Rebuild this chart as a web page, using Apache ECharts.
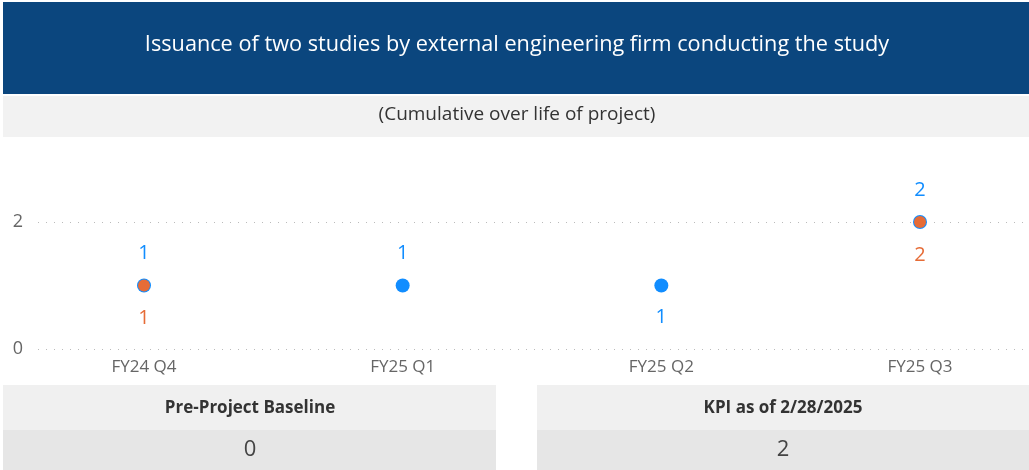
<!DOCTYPE html>
<html>
<head>
<meta charset="utf-8">
<script src="https://cdn.jsdelivr.net/npm/echarts@6/dist/echarts.min.js"></script>
<style>
  html, body { margin: 0; padding: 0; background: #fff; }
  #main { width: 1029px; height: 470px; }
</style>
</head>
<body>
<div id="main"></div>
<script>
// data
var quarters = ['FY24 Q4', 'FY25 Q1', 'FY25 Q2', 'FY25 Q3'];
var cumulative = [1, 1, 1, 2];        // blue
var target = [1, null, null, 2];       // orange
var blueBelow = ['FY25 Q2'];           // quarters whose blue label sits under the dot
var yTicks = [0, 2];
var baseline = 0;
var kpi = 2;

var font = '"Open Sans", "Noto Sans", sans-serif';
var blue = '#118DFF';
var orange = '#E66C37';

var chart = echarts.init(document.getElementById('main'));

var blueData = cumulative.map(function (v, i) {
  var below = blueBelow.indexOf(quarters[i]) >= 0;
  return { value: [quarters[i], v], label: { offset: [0, below ? 32 : -32] } };
});
var orangeData = [];
target.forEach(function (v, i) {
  if (v != null) orangeData.push([quarters[i], v]);
});

var option = {
  animation: false,
  textStyle: { fontFamily: font },
  graphic: [
    { type: 'rect', shape: { x: 3, y: 2, width: 1026, height: 92 }, style: { fill: '#0B467E' } },
    { type: 'text', x: 517, y: 45, style: { text: 'Issuance of two studies by external engineering firm conducting the study', fill: '#fff', font: '21.7px ' + font, textAlign: 'center', textVerticalAlign: 'middle' } },
    { type: 'rect', shape: { x: 3, y: 96, width: 1026, height: 41 }, style: { fill: '#F2F2F2' } },
    { type: 'text', x: 517, y: 115, style: { text: '(Cumulative over life of project)', fill: '#333', font: '19px ' + font, textAlign: 'center', textVerticalAlign: 'middle' } },

    { type: 'rect', shape: { x: 3, y: 385, width: 493, height: 45 }, style: { fill: '#F0F0F0' } },
    { type: 'rect', shape: { x: 3, y: 430, width: 493, height: 40 }, style: { fill: '#E6E6E6' } },
    { type: 'text', x: 250, y: 408, style: { text: 'Pre-Project Baseline', fill: '#333', font: 'bold 17px ' + font, textAlign: 'center', textVerticalAlign: 'middle' } },
    { type: 'text', x: 250, y: 450, style: { text: String(baseline), fill: '#444', font: '22px ' + font, textAlign: 'center', textVerticalAlign: 'middle' } },

    { type: 'rect', shape: { x: 537, y: 385, width: 492, height: 45 }, style: { fill: '#F0F0F0' } },
    { type: 'rect', shape: { x: 537, y: 430, width: 492, height: 40 }, style: { fill: '#E6E6E6' } },
    { type: 'text', x: 783, y: 408, style: { text: 'KPI as of 2/28/2025', fill: '#333', font: 'bold 17px ' + font, textAlign: 'center', textVerticalAlign: 'middle' } },
    { type: 'text', x: 783, y: 450, style: { text: String(kpi), fill: '#444', font: '22px ' + font, textAlign: 'center', textVerticalAlign: 'middle' } }
  ],
  grid: [
    // grid 0 carries the y labels and dotted gridlines across the full width
    { left: 38, right: 4, top: 222, bottom: 121 },
    // grid 1 places the quarters
    { left: 144, right: 109, top: 222, bottom: 121 }
  ],
  xAxis: [
    { gridIndex: 0, type: 'category', data: [''], show: false },
    {
      gridIndex: 1, type: 'category', data: quarters, boundaryGap: false,
      axisLine: { show: false }, axisTick: { show: false },
      axisLabel: { color: '#666', fontSize: 17, margin: 10 }
    }
  ],
  yAxis: [
    {
      gridIndex: 0, type: 'value', min: yTicks[0], max: yTicks[yTicks.length - 1], interval: 2,
      axisLine: { show: false }, axisTick: { show: false },
      axisLabel: { color: '#666', fontSize: 18, margin: 15 },
      splitLine: { lineStyle: { type: [1, 7], color: '#BBB', width: 1 } }
    },
    { gridIndex: 1, type: 'value', min: yTicks[0], max: yTicks[yTicks.length - 1], show: false }
  ],
  series: [
    {
      type: 'scatter', xAxisIndex: 1, yAxisIndex: 1, clip: false,
      symbol: 'circle', symbolSize: 14,
      itemStyle: { color: blue, opacity: 1 },
      label: { show: true, position: 'inside', color: blue, fontSize: 20, formatter: function (p) { return p.value[1]; } },
      data: blueData, z: 2
    },
    {
      type: 'scatter', xAxisIndex: 1, yAxisIndex: 1, clip: false,
      symbol: 'circle', symbolSize: 12,
      itemStyle: { color: orange, opacity: 1 },
      label: { show: true, position: 'inside', offset: [0, 33], color: orange, fontSize: 20, formatter: function (p) { return p.value[1]; } },
      data: orangeData, z: 3
    }
  ]
};

chart.setOption(option);
</script>
</body>
</html>
